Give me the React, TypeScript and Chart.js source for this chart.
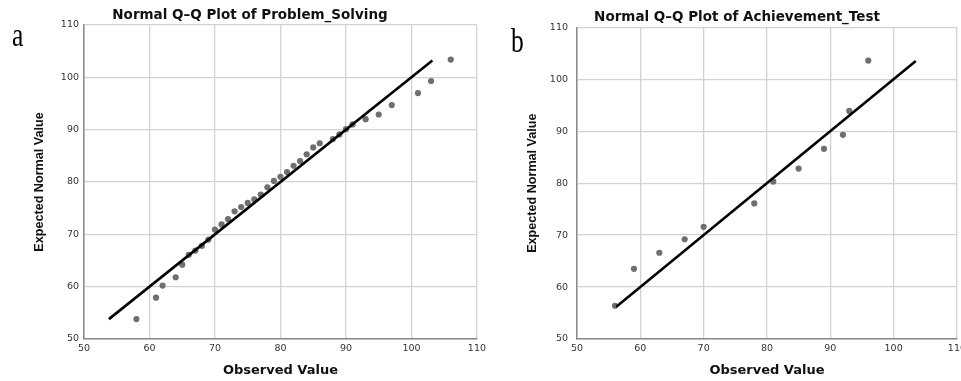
import React, { useEffect, useRef } from "react";
import { Chart, registerables } from "chart.js";

Chart.register(...registerables);

// Problem_Solving Q-Q data
const psObserved = [58, 61, 62, 64, 65, 66, 67, 68, 69, 70, 71, 72, 73, 74, 75, 76, 77, 78, 79, 80, 81, 82, 83, 84, 85, 86, 88, 89, 90, 91, 93, 95, 97, 101, 103, 106];
const psExpected = [53.8, 57.9, 60.2, 61.8, 64.2, 66.1, 66.9, 67.8, 69.0, 70.9, 71.9, 72.9, 74.4, 75.2, 76.0, 76.7, 77.6, 79.0, 80.2, 81.0, 81.9, 83.1, 84.0, 85.3, 86.6, 87.4, 88.2, 89.1, 90.1, 91.0, 92.0, 92.9, 94.7, 97.0, 99.3, 103.4];
const psLineEnds = [53.8, 103.2];

// Achievement_Test Q-Q data
const atObserved = [56, 59, 63, 67, 70, 78, 81, 85, 89, 92, 93, 96];
const atExpected = [56.4, 63.5, 66.6, 69.2, 71.6, 76.1, 80.3, 82.8, 86.6, 89.3, 93.9, 103.6];
const atLineEnds = [56.2, 103.5];

const axisMin = 50;
const axisMax = 110;
const axisStep = 10;

const titleA = "Normal Q–Q Plot of Problem_Solving";
const titleB = "Normal Q–Q Plot of Achievement_Test";
const xTitle = "Observed Value";
const yTitle = "Expected Normal Value";

type Geo = {
  padLeft: number;
  yWidth: number;
  padRight: number;
  titleTop: number;
  titleBottom: number;
  yTitlePad: number;
  yTickPad: number;
};

function makeConfig(title: string, obs: number[], exp: number[], ends: number[], g: Geo): any {
  const pts = obs.map((x, i) => ({ x, y: exp[i] }));
  const line = ends.map((v) => ({ x: v, y: v }));
  const tickFont = { family: "DejaVu Sans", size: 9.5 };
  return {
    type: "scatter",
    data: {
      datasets: [
        {
          type: "line",
          data: line,
          showLine: true,
          borderColor: "#000000",
          borderWidth: 2.6,
          pointRadius: 0,
          fill: false,
          order: 1,
        },
        {
          data: pts,
          backgroundColor: "#6f6f6f",
          borderWidth: 0,
          pointRadius: 3.1,
          pointStyle: "circle",
          order: 2,
        },
      ],
    },
    options: {
      responsive: false,
      animation: false,
      devicePixelRatio: 1,
      layout: { padding: { left: g.padLeft, right: g.padRight, top: 0, bottom: 0 } },
      plugins: {
        legend: { display: false },
        tooltip: { enabled: false },
        title: {
          display: true,
          text: title,
          color: "#111111",
          font: { family: "DejaVu Sans", size: 13.5, weight: "bold", lineHeight: 1.2 },
          padding: { top: g.titleTop, bottom: g.titleBottom },
        },
      },
      scales: {
        x: {
          type: "linear",
          min: axisMin,
          max: axisMax,
          afterFit: (s: any) => {
            s.height = 42;
          },
          ticks: { stepSize: axisStep, font: tickFont, color: "#333333", padding: 4, maxRotation: 0 },
          grid: { color: "#d2d2d2", lineWidth: 1.3, drawTicks: false },
          border: { color: "#8a8a8a", width: 1.5 },
          title: {
            display: true,
            text: xTitle,
            color: "#111111",
            font: { family: "DejaVu Sans", size: 13, weight: "bold", lineHeight: 1.2 },
            padding: { top: 0, bottom: 2.5 },
          },
        },
        y: {
          type: "linear",
          min: axisMin,
          max: axisMax,
          afterFit: (s: any) => {
            s.width = g.yWidth;
          },
          ticks: { stepSize: axisStep, font: tickFont, color: "#333333", padding: g.yTickPad },
          grid: { color: "#d2d2d2", lineWidth: 1.3, drawTicks: false },
          border: { color: "#8a8a8a", width: 1.5 },
          title: {
            display: true,
            text: yTitle,
            color: "#111111",
            font: { family: "Liberation Sans", size: 12.6, weight: "bold", lineHeight: 1.2 },
            padding: { top: g.yTitlePad, bottom: 0 },
          },
        },
      },
    },
  };
}

export default function App() {
  const leftRef = useRef<HTMLCanvasElement | null>(null);
  const rightRef = useRef<HTMLCanvasElement | null>(null);

  useEffect(() => {
    const c1 = new Chart(
      leftRef.current as HTMLCanvasElement,
      makeConfig(titleA, psObserved, psExpected, psLineEnds, {
        padLeft: 22,
        yWidth: 62,
        padRight: 12,
        titleTop: 7.3,
        titleBottom: 1.5,
        yTitlePad: 9.5,
        yTickPad: 5,
      })
    );
    const c2 = new Chart(
      rightRef.current as HTMLCanvasElement,
      makeConfig(titleB, atObserved, atExpected, atLineEnds, {
        padLeft: 27,
        yWidth: 60,
        padRight: 13,
        titleTop: 9.3,
        titleBottom: 1.8,
        yTitlePad: 7.5,
        yTickPad: 9,
      })
    );
    return () => {
      c1.destroy();
      c2.destroy();
    };
  }, []);

  const letter: React.CSSProperties = {
    position: "absolute",
    fontFamily: "'Liberation Serif', serif",
    fontSize: 34,
    lineHeight: "34px",
    color: "#000",
    transform: "scaleX(0.75)",
    transformOrigin: "left top",
    margin: 0,
  };

  return (
    <div
      style={{
        position: "absolute",
        left: 0,
        top: 0,
        width: 961,
        height: 381,
        overflow: "hidden",
        background: "#ffffff",
      }}
    >
      <canvas
        ref={leftRef}
        width={490}
        height={381}
        style={{ position: "absolute", left: 0, top: 0, width: 490, height: 381 }}
      />
      <canvas
        ref={rightRef}
        width={480}
        height={381}
        style={{ position: "absolute", left: 490, top: 0, width: 480, height: 381 }}
      />
      <span style={{ ...letter, left: 12, top: 18 }}>a</span>
      <span style={{ ...letter, left: 511, top: 24 }}>b</span>
    </div>
  );
}
